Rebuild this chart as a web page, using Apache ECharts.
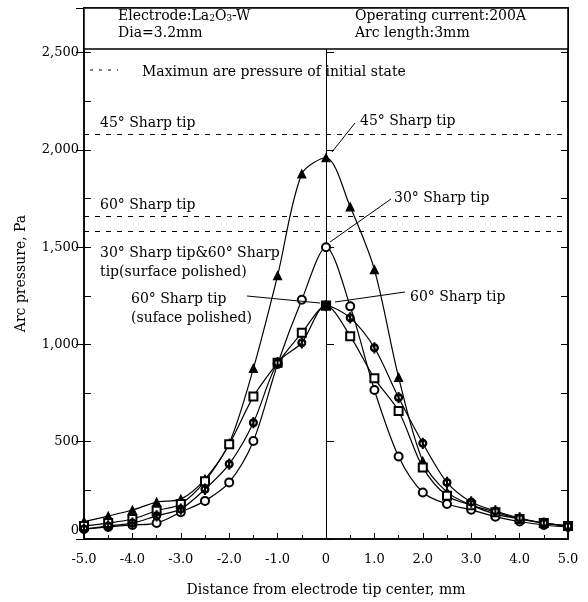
<!DOCTYPE html>
<html>
<head>
<meta charset="utf-8">
<script src="https://cdn.jsdelivr.net/npm/echarts@6/dist/echarts.min.js"></script>
<style>
  html, body { margin: 0; padding: 0; background: #fff; }
  #chart { width: 588px; height: 602px; }
</style>
</head>
<body>
<div id="chart"></div>
<script>
// distance from electrode tip center, mm
var xValues = [-5.0, -4.5, -4.0, -3.5, -3.0, -2.5, -2.0, -1.5, -1.0, -0.5, 0,
               0.5, 1.0, 1.5, 2.0, 2.5, 3.0, 3.5, 4.0, 4.5, 5.0];
// arc pressure, Pa
var tip45 = [90, 118, 149, 190, 205, 308, 492, 877, 1354, 1877, 1960,
             1708, 1385, 831, 400, 241, 174, 128, 103, 82, 67];
var tip30 = [51, 62, 72, 82, 138, 196, 291, 504, 900, 1230, 1500,
             1196, 766, 424, 239, 180, 150, 115, 90, 72, 62];
var tip60 = [67, 82, 103, 145, 180, 297, 487, 732, 906, 1060, 1200,
             1043, 826, 658, 368, 222, 174, 138, 103, 82, 67];
var tip60Polished = [51, 67, 82, 119, 154, 256, 385, 598, 906, 1009, 1200,
                     1137, 983, 727, 492, 291, 190, 144, 108, 82, 67];
// maximum arc pressure of initial state
var initialMax = [2080, 1660, 1580];
var yTicks = [0, 500, 1000, 1500, 2000, 2500];

var FONT = 'DejaVu Serif';
var slashCircle = 'path://M10,0A10,10 0 1,1 10,20A10,10 0 1,1 10,0Z' +
    'M10,3A7,7 0 1,0 10,17A7,7 0 1,0 10,3ZM8.8,-3L11.2,-3L11.2,23L8.8,23Z';

function pairs(arr) {
    return xValues.map(function (x, i) { return [x, arr[i]]; });
}

function lineSeries(arr, symbol, size) {
    return {
        type: 'line',
        data: pairs(arr),
        smooth: 0.3,
        symbol: symbol,
        symbolSize: size,
        lineStyle: { color: '#000', width: 1.2 },
        itemStyle: { color: '#000', borderColor: '#000', borderWidth: 1.2 }
    };
}

function label(x, y, text) {
    return {
        type: 'text', x: x, y: y, z: 101,
        style: { text: text, fontFamily: FONT, fontSize: 14, fill: '#000', verticalAlign: 'middle' }
    };
}

function pointer(x1, y1, x2, y2) {
    return {
        type: 'line', z: 101,
        shape: { x1: x1, y1: y1, x2: x2, y2: y2 },
        style: { stroke: '#000', lineWidth: 1 }
    };
}

var chart = echarts.init(document.getElementById('chart'));

var s45 = lineSeries(tip45, 'triangle', 8);
s45.markLine = {
    silent: true,
    symbol: 'none',
    label: { show: false },
    lineStyle: { color: '#000', width: 1, type: [5, 6] },
    data: initialMax.map(function (v) { return { yAxis: v }; })
};

var s60 = lineSeries(tip60, 'emptyRect', 8);
s60.data = pairs(tip60).map(function (p) {
    return p[0] === 0 ? { value: p, symbol: 'rect', symbolSize: 9 } : p;
});

var centerAxis = {
    type: 'value', min: 0, max: 2730, interval: 500,
    position: 'left',
    axisLine: { show: true, onZero: true, lineStyle: { color: '#000', width: 1 } },
    axisTick: { show: true, inside: true, length: 8, lineStyle: { color: '#000' } },
    axisLabel: { show: false },
    splitLine: { show: false }
};
var centerAxis2 = JSON.parse(JSON.stringify(centerAxis));
centerAxis2.axisTick.inside = false;
centerAxis2.axisLine.show = false;

var option = {
    animation: false,
    backgroundColor: '#fff',
    grid: { left: 84, right: 20, top: 8, bottom: 61, show: true, borderColor: '#000', borderWidth: 1.5 },
    xAxis: {
        type: 'value', min: -5, max: 5, interval: 1,
        axisLine: { onZero: false, lineStyle: { color: '#000', width: 1.5 } },
        axisTick: { inside: true, length: 6, lineStyle: { color: '#000' } },
        minorTick: { show: true, splitNumber: 2, length: 4, lineStyle: { color: '#000' } },
        splitLine: { show: false },
        axisLabel: {
            color: '#000', fontFamily: FONT, fontSize: 13, margin: 14,
            formatter: function (v) { return v === 0 ? '0' : v.toFixed(1); }
        },
        name: 'Distance from electrode tip center, mm',
        nameLocation: 'middle', nameGap: 44,
        nameTextStyle: { color: '#000', fontFamily: FONT, fontSize: 14 }
    },
    yAxis: [{
        type: 'value', min: 0, max: 2730, interval: 500,
        position: 'left',
        axisLine: { onZero: false, lineStyle: { color: '#000', width: 1.5 } },
        axisTick: { inside: true, length: 7, lineStyle: { color: '#000' } },
        minorTick: { show: true, splitNumber: 2, length: 7, lineStyle: { color: '#000' } },
        splitLine: { show: false },
        axisLabel: {
            color: '#000', fontFamily: FONT, fontSize: 13, margin: 5, showMaxLabel: false,
            formatter: function (v) {
                if (yTicks.indexOf(v) < 0) return '';
                return v === 0 ? '{z|0}' : v.toLocaleString('en-US');
            },
            rich: { z: { fontFamily: FONT, fontSize: 13, color: '#000', padding: [0, 0, 16, 0] } }
        },
        name: 'Arc pressure, Pa',
        nameLocation: 'middle', nameGap: 56, nameRotate: 90,
        nameTextStyle: { color: '#000', fontFamily: FONT, fontSize: 14 }
    }, {
        type: 'value', min: 0, max: 2730, interval: 500,
        position: 'right',
        axisLine: { onZero: false, lineStyle: { color: '#000', width: 1.5 } },
        axisTick: { inside: true, length: 7, lineStyle: { color: '#000' } },
        minorTick: { show: true, splitNumber: 2, length: 7, lineStyle: { color: '#000' } },
        splitLine: { show: false },
        axisLabel: { show: false }
    }, centerAxis, centerAxis2],
    series: [
        s45,
        lineSeries(tip30, 'emptyCircle', 8),
        s60,
        lineSeries(tip60Polished, slashCircle, [8, 10])
    ],
    graphic: [
        {
            type: 'rect', z: 100,
            shape: { x: 84, y: 8, width: 484, height: 41 },
            style: { fill: '#fff', stroke: '#000', lineWidth: 1.5 }
        },
        {
            type: 'text', x: 118, y: 16, z: 101,
            style: {
                text: 'Electrode:La{s|2}O{s|3}-W', fontFamily: FONT, fontSize: 14, fill: '#000',
                verticalAlign: 'middle',
                rich: { s: { fontFamily: FONT, fontSize: 9, fill: '#000', padding: [6, 0, 0, 0] } }
            }
        },
        label(118, 33, 'Dia=3.2mm'),
        label(355, 16, 'Operating current:200A'),
        label(355, 33, 'Arc length:3mm'),
        {
            type: 'line', z: 101,
            shape: { x1: 90, y1: 70, x2: 118, y2: 70 },
            style: { stroke: '#000', lineWidth: 1, lineDash: [3, 6] }
        },
        label(142, 72, 'Maximun are pressure of initial state'),
        label(100, 123, '45\u00b0 Sharp tip'),
        label(100, 205, '60\u00b0 Sharp tip'),
        label(100, 253, '30\u00b0 Sharp tip&60\u00b0 Sharp'),
        label(100, 272, 'tip(surface polished)'),
        label(131, 299, '60\u00b0 Sharp tip'),
        label(131, 318, '(suface polished)'),
        label(360, 121, '45\u00b0 Sharp tip'),
        label(394, 198, '30\u00b0 Sharp tip'),
        label(410, 297, '60\u00b0 Sharp tip'),
        pointer(355, 123, 332, 152),
        pointer(391, 199, 330, 242),
        pointer(405, 292, 335, 302),
        pointer(247, 296, 320, 303)
    ]
};

chart.setOption(option);
</script>
</body>
</html>
